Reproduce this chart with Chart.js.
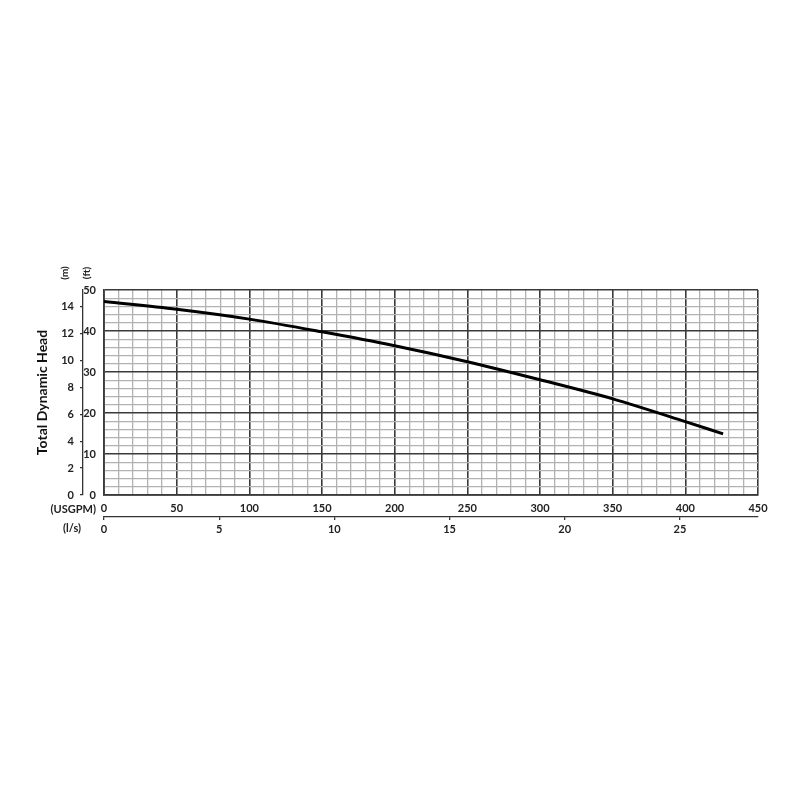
<!DOCTYPE html>
<html><head><meta charset="utf-8">
<script src="https://cdn.jsdelivr.net/npm/chart.js@4.4.1/dist/chart.umd.min.js"></script>
<style>html,body{margin:0;padding:0;background:#fff}</style>
</head><body>
<canvas id="c" width="800" height="800"></canvas>
<script>
// Data
const flowUSGPM = [0, 50, 100, 150, 200, 250, 300, 350, 400, 426];
const headFt    = [47.2, 45.3, 42.9, 39.8, 36.4, 32.5, 28.1, 23.45, 17.9, 14.9];
// Axis ranges / ticks
const usgpmMax = 450, usgpmMajor = 50, usgpmMinor = 10;
const ftMax = 50, ftMajor = 10, ftMinor = 2;
const mTickValues = [0, 2, 4, 6, 8, 10, 12, 14];
const lsTickValues = [0, 5, 10, 15, 20, 25];
const FT_PER_M = 3.28084;
const USGPM_PER_LS = 15.8503;

const MAJOR = '#3a3a3a', MINOR = '#b2b2b2';
const tickFont = {family: 'Lato', weight: 'bold', size: 11};

const unitLabels = {
  id: 'unitLabels',
  afterDraw(chart) {
    const {ctx, chartArea: a} = chart;
    ctx.save();
    ctx.fillStyle = '#222';
    ctx.font = 'bold 10px Lato';
    ctx.textAlign = 'center';
    ctx.textBaseline = 'middle';
    [['(m)', a.left - 39], ['(ft)', a.left - 17]].forEach(([t, x]) => {
      ctx.save();
      ctx.translate(x, a.top - 17);
      ctx.rotate(-Math.PI / 2);
      ctx.fillText(t, 0, 0);
      ctx.restore();
    });
    ctx.font = 'bold 11px Lato';
    ctx.textAlign = 'right';
    ctx.fillText('(USGPM)', a.left - 8, a.bottom + 14);
    ctx.textAlign = 'center';
    ctx.fillText('(l/s)', a.left - 32, a.bottom + 33);
    ctx.restore();
  }
};

new Chart(document.getElementById('c'), {
  type: 'line',
  data: {
    datasets: [{
      data: flowUSGPM.map((x, i) => ({x, y: headFt[i]})),
      borderColor: '#000',
      borderWidth: 3,
      pointRadius: 0,
      cubicInterpolationMode: 'monotone',
      fill: false,
      xAxisID: 'x',
      yAxisID: 'y'
    }]
  },
  options: {
    responsive: false,
    animation: false,
    devicePixelRatio: 1,
    layout: {padding: {top: 290, left: 30, right: 42, bottom: 253}},
    plugins: {legend: {display: false}, tooltip: {enabled: false}},
    scales: {
      x: {
        type: 'linear', position: 'bottom', min: 0, max: usgpmMax, weight: 0,
        ticks: {stepSize: usgpmMinor, autoSkip: false, maxRotation: 0, padding: 7,
          font: tickFont, color: '#222',
          callback: v => (v % usgpmMajor === 0 ? String(v) : '')},
        grid: {drawTicks: false,
          color: c => (c.tick && c.tick.value % usgpmMajor === 0 ? MAJOR : MINOR),
          lineWidth: c => (c.tick && c.tick.value % usgpmMajor === 0 ? 1.6 : 1.3)},
        border: {color: MAJOR, width: 1.8},
        afterFit: s => { s.height = 22; }
      },
      ls: {
        type: 'linear', position: 'bottom', min: 0, max: usgpmMax / USGPM_PER_LS, weight: 1,
        afterBuildTicks: s => { s.ticks = lsTickValues.map(v => ({value: v})); },
        ticks: {autoSkip: false, maxRotation: 0, padding: 3,
          font: tickFont, color: '#222'},
        grid: {drawOnChartArea: false, drawTicks: true, tickLength: 3, color: '#333', lineWidth: 1.3},
        border: {display: true, color: '#333', width: 1.3},
        afterFit: s => { s.height = 30; }
      },
      y: {
        type: 'linear', position: 'left', min: 0, max: ftMax, weight: 0,
        ticks: {stepSize: ftMinor, autoSkip: false, padding: 8,
          font: tickFont, color: '#222',
          callback: v => (v % ftMajor === 0 ? String(v) : '')},
        grid: {drawTicks: false,
          color: c => (c.tick && c.tick.value % ftMajor === 0 ? MAJOR : MINOR),
          lineWidth: c => (c.tick && c.tick.value % ftMajor === 0 ? 1.6 : 1.3)},
        border: {color: MAJOR, width: 1.8},
        afterFit: s => { s.width = 21; }
      },
      m: {
        type: 'linear', position: 'left', min: 0, max: ftMax / FT_PER_M, weight: 1,
        afterBuildTicks: s => { s.ticks = mTickValues.map(v => ({value: v})); },
        ticks: {autoSkip: false, padding: 6,
          font: tickFont, color: '#222'},
        grid: {drawOnChartArea: false, drawTicks: true, tickLength: 3, color: '#333', lineWidth: 1.3},
        border: {display: true, color: '#333', width: 1.3},
        title: {display: true, text: 'Total Dynamic Head', color: '#111',
          font: {family: 'Lato', weight: 'bold', size: 14}, padding: {top: 4, bottom: 4}},
        afterFit: s => { s.width = 53; }
      }
    }
  },
  plugins: [unitLabels]
});
</script>
</body></html>
